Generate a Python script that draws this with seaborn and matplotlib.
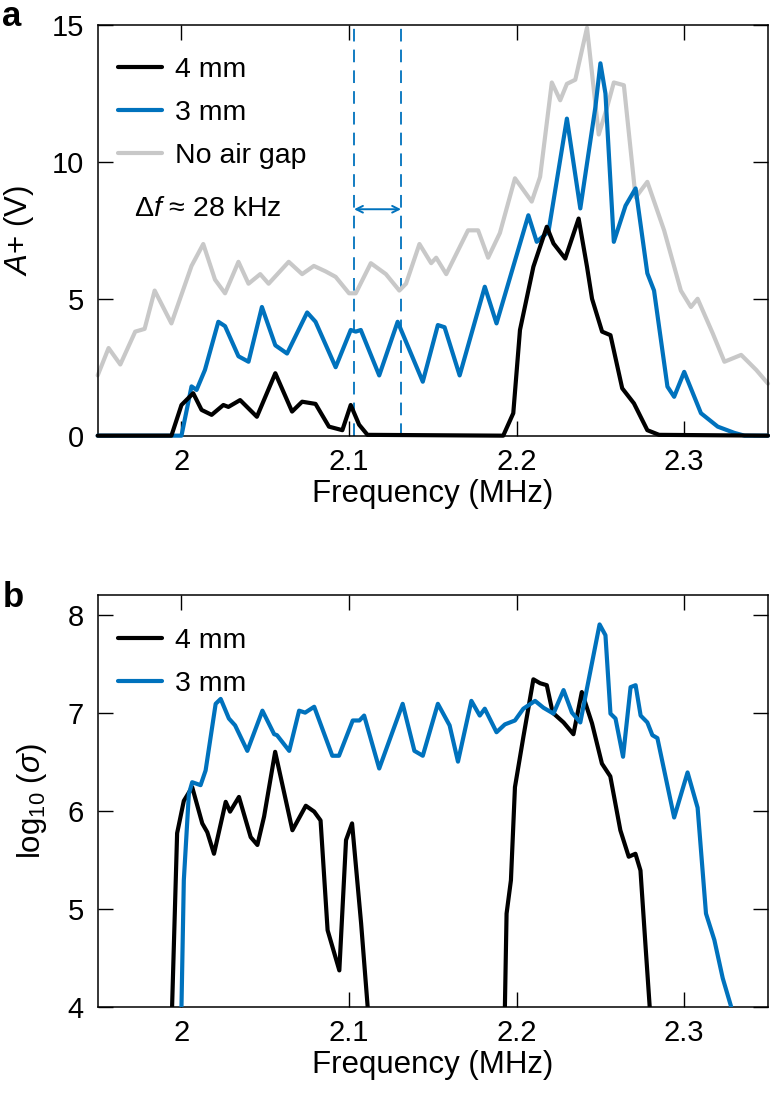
import seaborn as sns
import numpy as np
import matplotlib.pyplot as plt
import pandas as pd

" DATA (read off the reference) "
# panel a: amplitude A+ (V) vs frequency (MHz)
a_gap_freq = [1.950, 1.9565, 1.9635, 1.9724, 1.978, 1.984, 1.994, 2.006, 2.013, 2.020,
              2.026, 2.034, 2.040, 2.047, 2.052, 2.064, 2.072, 2.079, 2.086, 2.092,
              2.100, 2.104, 2.113, 2.122, 2.130, 2.134, 2.142, 2.149, 2.152, 2.158,
              2.171, 2.177, 2.183, 2.190, 2.199, 2.209, 2.214, 2.221, 2.226, 2.230,
              2.235, 2.242, 2.249, 2.254, 2.258, 2.264, 2.271, 2.278, 2.288, 2.298,
              2.304, 2.308, 2.317, 2.324, 2.334, 2.343, 2.350]
a_gap_amp = [2.2, 3.2, 2.6, 3.8, 3.9, 5.3, 4.1, 6.2, 7.0, 5.7,
             5.2, 6.35, 5.55, 5.9, 5.55, 6.35, 5.9, 6.2, 6.0, 5.8,
             5.2, 5.2, 6.3, 5.9, 5.3, 5.55, 7.0, 6.3, 6.5, 5.9,
             7.5, 7.5, 6.5, 7.4, 9.4, 8.55, 9.45, 12.9, 12.25, 12.85,
             13.0, 14.9, 11.0, 12.0, 12.9, 12.8, 8.7, 9.27, 7.5, 5.3,
             4.7, 5.0, 3.74, 2.7, 2.95, 2.4, 1.9]

a_3mm_freq = [1.950, 2.000, 2.006, 2.009, 2.014, 2.022, 2.026, 2.034, 2.040, 2.048,
              2.056, 2.063, 2.075, 2.080, 2.092, 2.101, 2.104, 2.107, 2.118, 2.129,
              2.144, 2.153, 2.157, 2.166, 2.181, 2.188, 2.207, 2.212, 2.219, 2.230,
              2.238, 2.247, 2.250, 2.253, 2.258, 2.265, 2.271, 2.278, 2.282, 2.290,
              2.294, 2.300, 2.310, 2.320, 2.330, 2.336, 2.350]
a_3mm_amp = [0, 0, 1.8, 1.67, 2.4, 4.16, 4.0, 2.9, 2.7, 4.7,
             3.3, 3.0, 4.5, 4.16, 2.5, 3.86, 3.8, 3.86, 2.2, 4.16,
             1.97, 4.04, 3.96, 2.2, 5.44, 4.1, 8.05, 7.08, 7.45, 11.58,
             8.3, 12.0, 13.6, 12.5, 7.08, 8.4, 9.03, 5.93, 5.3, 1.79,
             1.42, 2.33, 0.82, 0.33, 0.1, 0, 0]

a_4mm_freq = [1.950, 1.994, 2.000, 2.007, 2.012, 2.018, 2.025, 2.028, 2.035, 2.045,
              2.056, 2.066, 2.072, 2.080, 2.088, 2.096, 2.101, 2.106, 2.111, 2.192,
              2.198, 2.202, 2.210, 2.218, 2.222, 2.229, 2.237, 2.242, 2.245, 2.251,
              2.256, 2.263, 2.270, 2.278, 2.285, 2.350]
a_4mm_amp = [0, 0, 1.12, 1.55, 0.94, 0.76, 1.12, 1.05, 1.3, 0.69,
             2.28, 0.88, 1.24, 1.16, 0.33, 0.2, 1.12, 0.4, 0.03, 0,
             0.82, 3.86, 6.17, 7.63, 7.02, 6.47, 7.93, 6.17, 5.0, 3.8,
             3.67, 1.73, 1.18, 0.2, 0.03, 0]

# markers of the frequency spacing
delta_freqs = [2.103, 2.131]
delta_text = "Δ$f$ ≈ 28 kHz"

# panel b: log10(sigma) vs frequency (MHz)
b_3mm_freq = [2.000, 2.0014, 2.0044, 2.0064, 2.0114, 2.0144, 2.0204, 2.0234, 2.0283, 2.032,
              2.0393, 2.0483, 2.0553, 2.057, 2.0643, 2.0702, 2.0738, 2.0792, 2.090, 2.094,
              2.1022, 2.1062, 2.109, 2.118, 2.132, 2.139, 2.144, 2.153, 2.160, 2.165,
              2.173, 2.178, 2.181, 2.188, 2.193, 2.199, 2.204, 2.211, 2.216, 2.222,
              2.228, 2.233, 2.238, 2.245, 2.2495, 2.253, 2.256, 2.259, 2.2635, 2.268,
              2.271, 2.274, 2.278, 2.281, 2.284, 2.294, 2.302, 2.308, 2.313, 2.318,
              2.323, 2.328]
b_3mm_sigma = [4.0, 5.29, 6.17, 6.29, 6.26, 6.41, 7.09, 7.14, 6.94, 6.87,
               6.61, 7.02, 6.78, 6.77, 6.61, 7.02, 7.0, 7.06, 6.56, 6.56,
               6.92, 6.92, 6.97, 6.43, 7.09, 6.61, 6.56, 7.09, 6.87, 6.5,
               7.12, 6.97, 7.04, 6.8, 6.88, 6.92, 7.04, 7.12, 7.05, 6.99,
               7.23, 7.0, 6.9, 7.51, 7.9, 7.79, 6.99, 6.94, 6.55, 7.26,
               7.28, 6.97, 6.9, 6.77, 6.74, 5.93, 6.39, 6.03, 4.95, 4.68,
               4.29, 4.0]

# the 4 mm curve has two separate pieces (nothing in between)
b_4mm_freq = [1.9944, 1.9974, 2.0014, 2.0064, 2.0124, 2.0154, 2.0194, 2.0264, 2.029, 2.0343,
              2.0413, 2.0453, 2.0493, 2.0559, 2.0662, 2.0742, 2.0792, 2.083, 2.0872, 2.0942,
              2.0982, 2.1018, 2.1072, 2.1111,
              2.193, 2.194, 2.1966, 2.199, 2.204, 2.210, 2.214, 2.218, 2.2215, 2.228,
              2.2339, 2.2389, 2.245, 2.2509, 2.2559, 2.2619, 2.2669, 2.2709, 2.2739, 2.277,
              2.2794]
b_4mm_sigma = [4.0, 5.77, 6.1, 6.24, 5.87, 5.78, 5.56, 6.09, 5.99, 6.14,
               5.73, 5.65, 5.94, 6.6, 5.8, 6.05, 5.99, 5.9, 4.78, 4.37,
               5.7, 5.87, 4.85, 4.0,
               4.0, 4.95, 5.29, 6.24, 6.75, 7.34, 7.3, 7.28, 7.0, 6.9,
               6.78, 7.21, 6.89, 6.48, 6.35, 5.8, 5.53, 5.56, 5.39, 4.6,
               4.0]
b_4mm_piece = [0] * 24 + [1] * 21

freq_ticks = [2, 2.1, 2.2, 2.3]
freq_ticklabels = ["2", "2.1", "2.2", "2.3"]

" STYLE "
BLUE = "#0072BD"
GRAY = "#C8C8C8"
BLACK = "black"
LW = 3.0

sns.set_theme(style="ticks")
plt.rcParams["font.family"] = ["Liberation Sans", "DejaVu Sans"]
plt.rcParams["font.size"] = 20.5
plt.rcParams["mathtext.fontset"] = "custom"
plt.rcParams["mathtext.rm"] = "Liberation Sans"
plt.rcParams["mathtext.it"] = "Liberation Sans:italic"
plt.rcParams["text.color"] = "black"
plt.rcParams["axes.labelcolor"] = "black"
plt.rcParams["axes.edgecolor"] = "black"
plt.rcParams["axes.linewidth"] = 1.1
plt.rcParams["xtick.color"] = "black"
plt.rcParams["ytick.color"] = "black"

FS_TICK = 21
FS_LABEL = 22.5
FS_LEG = 20.5


def style_axes(ax):
    ax.tick_params(direction="in", top=True, right=True, length=11, width=1.0,
                   labelsize=FS_TICK, color="black")
    ax.tick_params(axis="x", pad=9)
    ax.tick_params(axis="y", pad=10)
    ax.set_xlim(1.95, 2.35)
    ax.set_xticks(freq_ticks)
    ax.set_xticklabels(freq_ticklabels)
    ax.set_xlabel("Frequency (MHz)", fontsize=FS_LABEL)
    ax.xaxis.set_label_coords(0.5, -0.106)


def add_legend(ax, names, top):
    h, l = ax.get_legend_handles_labels()
    order = [l.index(n) for n in names]
    ax.legend([h[i] for i in order], [l[i] for i in order], loc="upper left",
              bbox_to_anchor=(0.03, top), frameon=False, fontsize=FS_LEG,
              handlelength=1.55, handletextpad=0.45, labelspacing=0.6,
              borderpad=0, borderaxespad=0)


fig = plt.figure(figsize=(7.71, 10.96), dpi=100)

" Panel a "
ax_a = fig.add_axes([0.1267, 0.6025, 0.8694, 0.3747])
gap = pd.DataFrame({"freq": a_gap_freq, "amp": a_gap_amp})
mm3 = pd.DataFrame({"freq": a_3mm_freq, "amp": a_3mm_amp})
mm4 = pd.DataFrame({"freq": a_4mm_freq, "amp": a_4mm_amp})

for ff in delta_freqs:
    ax_a.axvline(ff, color=BLUE, lw=1.3, dashes=(7, 4.5), zorder=1)
sns.lineplot(data=gap, x="freq", y="amp", color=GRAY, linewidth=LW, label="No air gap",
             ax=ax_a, clip_on=False, zorder=2)
sns.lineplot(data=mm3, x="freq", y="amp", color=BLUE, linewidth=LW, label="3 mm",
             ax=ax_a, clip_on=False, zorder=3)
sns.lineplot(data=mm4, x="freq", y="amp", color=BLACK, linewidth=LW, label="4 mm",
             ax=ax_a, clip_on=False, zorder=4)

ax_a.annotate("", xy=(delta_freqs[1], 8.27), xytext=(delta_freqs[0], 8.27),
              arrowprops=dict(arrowstyle="<->", color=BLUE, lw=1.4,
                              shrinkA=0, shrinkB=0, mutation_scale=12))
ax_a.text(1.9714, 8.27, delta_text, fontsize=FS_LEG, va="center", ha="left")

ax_a.set_ylim(0, 15)
ax_a.set_yticks([0, 5, 10, 15])
ax_a.set_ylabel("$A$+ (V)", fontsize=FS_LABEL)
ax_a.yaxis.set_label_coords(-0.092, 0.5)
style_axes(ax_a)
add_legend(ax_a, ["4 mm", "3 mm", "No air gap"], 0.922)

" Panel b "
ax_b = fig.add_axes([0.1267, 0.0815, 0.8694, 0.3756])
s3 = pd.DataFrame({"freq": b_3mm_freq, "sigma": b_3mm_sigma})
s4 = pd.DataFrame({"freq": b_4mm_freq, "sigma": b_4mm_sigma, "piece": b_4mm_piece})

sns.lineplot(data=s4, x="freq", y="sigma", units="piece", estimator=None,
             color=BLACK, linewidth=LW, label="4 mm", ax=ax_b, zorder=3)
sns.lineplot(data=s3, x="freq", y="sigma", color=BLUE, linewidth=LW, label="3 mm",
             ax=ax_b, zorder=4)

ax_b.set_ylim(4, 8.2)
ax_b.set_yticks([4, 5, 6, 7, 8])
ax_b.set_ylabel("log$_{10}$ ($\\sigma$)", fontsize=FS_LABEL)
ax_b.yaxis.set_label_coords(-0.072, 0.5)
style_axes(ax_b)
add_legend(ax_b, ["4 mm", "3 mm"], 0.92)

" Panel letters "
fig.text(0.003, 0.976, "a", fontsize=25, fontweight="bold", va="baseline")
fig.text(0.003, 0.446, "b", fontsize=25, fontweight="bold", va="baseline")

plt.savefig("out.png", dpi=100)
